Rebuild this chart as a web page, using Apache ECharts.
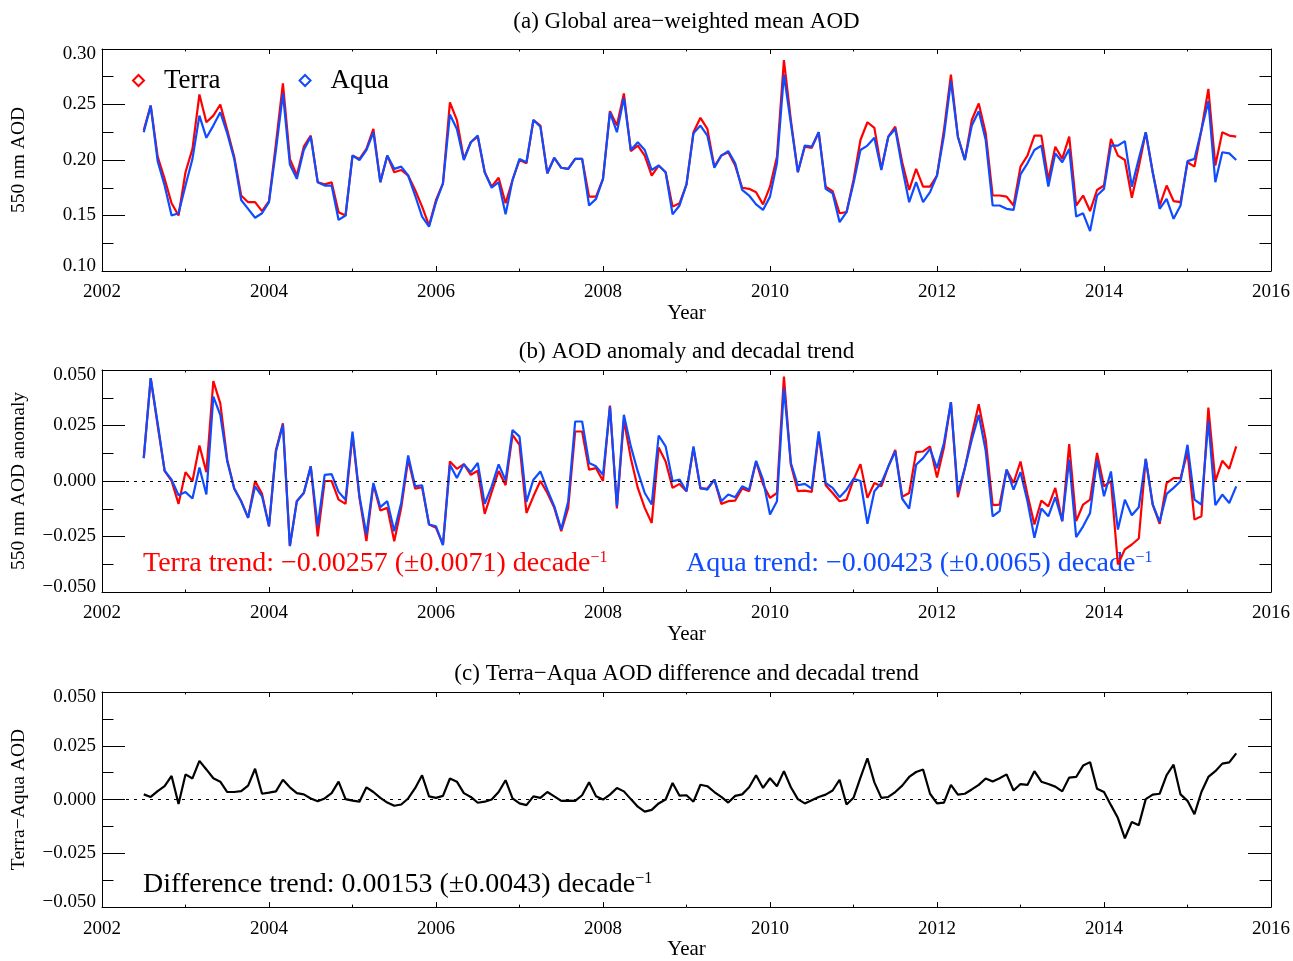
<!DOCTYPE html>
<html><head><meta charset="utf-8">
<script src="https://cdn.jsdelivr.net/npm/echarts@6/dist/echarts.min.js"></script>
<style>html,body{margin:0;padding:0;background:#fff}#c{width:1293px;height:961px}</style>
</head><body><div id="c"></div>
<script>
// ---------- data ----------
const startYear = 2002, startMonth = 7; // first value: July 2002, monthly
const xTickLabels = ['2002','2004','2006','2008','2010','2012','2014','2016'];
const yTickLabelsA = ['0.10','0.15','0.20','0.25','0.30'];
const yTickLabelsB = ['\u22120.050','\u22120.025','0.000','0.025','0.050'];
const yTickLabelsC = ['\u22120.050','\u22120.025','0.000','0.025','0.050'];

const terraAOD = [0.227,0.249,0.203,0.183,0.161,0.150,0.189,0.210,0.259,0.234,0.240,0.250,
0.227,0.203,0.168,0.162,0.162,0.154,0.163,0.215,0.269,0.201,0.186,0.212,
0.222,0.180,0.178,0.180,0.153,0.150,0.204,0.201,0.210,0.228,0.180,0.204,
0.189,0.191,0.186,0.173,0.158,0.141,0.164,0.179,0.252,0.236,0.201,0.216,
0.221,0.189,0.176,0.184,0.161,0.182,0.200,0.197,0.236,0.231,0.188,0.202,
0.193,0.192,0.201,0.201,0.167,0.167,0.183,0.244,0.231,0.260,0.208,0.213,
0.204,0.186,0.195,0.189,0.158,0.161,0.178,0.225,0.238,0.228,0.194,0.204,
0.207,0.195,0.175,0.174,0.171,0.160,0.176,0.203,0.290,0.236,0.189,0.212,
0.211,0.225,0.176,0.172,0.152,0.153,0.182,0.218,0.234,0.229,0.192,0.221,
0.230,0.198,0.173,0.192,0.176,0.176,0.186,0.227,0.277,0.221,0.200,0.236,
0.251,0.224,0.168,0.168,0.167,0.159,0.194,0.204,0.222,0.222,0.182,0.212,
0.201,0.221,0.159,0.168,0.154,0.173,0.177,0.219,0.204,0.200,0.166,0.194,
0.225,0.189,0.159,0.177,0.163,0.162,0.198,0.194,0.227,0.264,0.195,0.225,
0.222,0.221];

const aquaAOD = [0.225,0.249,0.199,0.177,0.150,0.152,0.177,0.201,0.240,0.220,0.231,0.243,
0.224,0.201,0.164,0.156,0.148,0.152,0.162,0.209,0.260,0.196,0.183,0.209,
0.221,0.180,0.177,0.177,0.146,0.150,0.204,0.200,0.209,0.225,0.180,0.204,
0.192,0.194,0.186,0.168,0.149,0.140,0.162,0.179,0.241,0.228,0.200,0.216,
0.222,0.189,0.175,0.180,0.151,0.182,0.201,0.198,0.236,0.230,0.188,0.202,
0.193,0.192,0.201,0.201,0.159,0.165,0.183,0.243,0.225,0.256,0.209,0.216,
0.209,0.191,0.195,0.189,0.151,0.159,0.178,0.224,0.231,0.222,0.193,0.204,
0.208,0.197,0.173,0.168,0.160,0.155,0.167,0.197,0.277,0.233,0.189,0.213,
0.212,0.225,0.174,0.170,0.144,0.153,0.179,0.209,0.213,0.220,0.191,0.221,
0.228,0.193,0.162,0.180,0.162,0.171,0.186,0.222,0.271,0.221,0.200,0.231,
0.244,0.218,0.159,0.159,0.156,0.155,0.187,0.197,0.209,0.213,0.176,0.206,
0.198,0.210,0.149,0.152,0.136,0.168,0.174,0.213,0.213,0.217,0.176,0.201,
0.225,0.189,0.156,0.165,0.147,0.159,0.199,0.201,0.227,0.253,0.180,0.207,
0.206,0.200];

const terraAnomaly = [0.0103,0.0463,0.0250,0.0046,0.0000,-0.0103,0.0040,-0.0001,0.0160,0.0040,0.0450,0.0350,
0.0096,-0.0034,-0.0091,-0.0166,0.0000,-0.0058,-0.0204,0.0140,0.0260,-0.0293,-0.0091,-0.0054,
0.0066,-0.0249,0.0000,0.0000,-0.0084,-0.0103,0.0208,-0.0076,-0.0271,-0.0016,-0.0133,-0.0121,
-0.0271,-0.0121,0.0096,-0.0034,-0.0028,-0.0196,-0.0211,-0.0286,0.0088,0.0055,0.0076,0.0028,
0.0046,-0.0148,-0.0050,0.0045,-0.0019,0.0208,0.0163,-0.0144,-0.0069,0.0000,-0.0054,-0.0121,
-0.0226,-0.0121,0.0223,0.0223,0.0051,0.0058,0.0000,0.0340,-0.0124,0.0275,0.0103,-0.0031,
-0.0121,-0.0189,0.0151,0.0088,-0.0031,-0.0013,-0.0046,0.0148,-0.0034,-0.0034,0.0006,-0.0103,
-0.0091,-0.0088,-0.0034,-0.0046,0.0088,-0.0016,-0.0076,-0.0054,0.0470,0.0073,-0.0046,-0.0043,
-0.0049,0.0208,-0.0019,-0.0054,-0.0091,-0.0084,0.0006,0.0076,-0.0076,-0.0009,-0.0024,0.0065,
0.0140,-0.0071,-0.0054,0.0130,0.0133,0.0156,0.0016,0.0151,0.0355,-0.0073,0.0058,0.0208,
0.0346,0.0186,-0.0109,-0.0106,0.0051,-0.0009,0.0088,-0.0061,-0.0196,-0.0088,-0.0114,-0.0031,
-0.0181,0.0166,-0.0181,-0.0106,-0.0084,0.0126,-0.0024,-0.0001,-0.0376,-0.0308,-0.0286,-0.0259,
0.0100,-0.0106,-0.0193,-0.0009,0.0013,0.0013,0.0130,-0.0174,-0.0159,0.0331,-0.0001,0.0091,
0.0055,0.0156];

const aquaAnomaly = [0.0103,0.0463,0.0260,0.0046,0.0006,-0.0064,-0.0050,-0.0079,0.0061,-0.0061,0.0380,0.0298,
0.0088,-0.0034,-0.0091,-0.0166,-0.0024,-0.0069,-0.0204,0.0133,0.0253,-0.0293,-0.0091,-0.0054,
0.0066,-0.0204,0.0028,0.0031,-0.0049,-0.0084,0.0223,-0.0069,-0.0241,-0.0009,-0.0118,-0.0091,
-0.0226,-0.0099,0.0115,-0.0024,-0.0019,-0.0196,-0.0204,-0.0289,0.0073,0.0013,0.0076,0.0040,
0.0081,-0.0103,-0.0024,0.0075,0.0003,0.0230,0.0200,-0.0094,0.0006,0.0043,-0.0039,-0.0114,
-0.0219,-0.0091,0.0268,0.0268,0.0081,0.0066,0.0028,0.0335,-0.0114,0.0298,0.0156,0.0043,
-0.0054,-0.0106,0.0205,0.0156,-0.0001,0.0006,-0.0046,0.0156,-0.0031,-0.0039,0.0006,-0.0091,
-0.0061,-0.0073,-0.0024,-0.0039,0.0091,0.0006,-0.0151,-0.0091,0.0418,0.0081,-0.0019,-0.0013,
-0.0034,0.0223,-0.0009,-0.0031,-0.0073,-0.0039,0.0010,0.0000,-0.0193,-0.0046,-0.0009,0.0065,
0.0133,-0.0080,-0.0124,0.0073,0.0103,0.0145,0.0058,0.0171,0.0355,-0.0054,0.0058,0.0186,
0.0298,0.0136,-0.0159,-0.0136,0.0051,-0.0039,0.0040,-0.0091,-0.0256,-0.0124,-0.0159,-0.0073,
-0.0181,0.0096,-0.0253,-0.0204,-0.0144,0.0096,-0.0069,0.0043,-0.0219,-0.0084,-0.0154,-0.0118,
0.0100,-0.0106,-0.0184,-0.0058,-0.0031,-0.0001,0.0163,-0.0084,-0.0106,0.0271,-0.0109,-0.0061,
-0.0099,-0.0024];

const terraMinusAqua = [0.0024,0.0012,0.0039,0.0062,0.0110,-0.0021,0.0117,0.0098,0.0180,0.0140,0.0099,0.0083,
0.0035,0.0035,0.0039,0.0065,0.0143,0.0027,0.0032,0.0038,0.0092,0.0057,0.0030,0.0024,
0.0005,-0.0008,0.0005,0.0030,0.0083,0.0002,-0.0005,-0.0010,0.0057,0.0035,0.0008,-0.0014,
-0.0029,-0.0023,0.0005,0.0053,0.0113,0.0015,0.0008,0.0017,0.0098,0.0083,0.0030,0.0012,
-0.0015,-0.0010,0.0000,0.0035,0.0090,0.0005,-0.0018,-0.0026,0.0015,0.0008,0.0035,0.0015,
-0.0006,-0.0005,-0.0006,0.0020,0.0080,0.0015,0.0000,0.0023,0.0054,0.0038,0.0002,-0.0033,
-0.0056,-0.0048,-0.0018,0.0000,0.0077,0.0018,0.0020,-0.0010,0.0069,0.0062,0.0035,0.0012,
-0.0014,0.0017,0.0024,0.0057,0.0113,0.0054,0.0099,0.0062,0.0132,0.0057,0.0002,-0.0018,
-0.0003,0.0012,0.0023,0.0042,0.0092,-0.0023,0.0008,0.0102,0.0192,0.0080,0.0008,0.0012,
0.0035,0.0065,0.0105,0.0128,0.0140,0.0027,-0.0018,-0.0014,0.0068,0.0023,0.0027,0.0047,
0.0068,0.0098,0.0084,0.0099,0.0117,0.0042,0.0072,0.0068,0.0132,0.0083,0.0072,0.0060,
0.0038,0.0102,0.0105,0.0158,0.0174,0.0050,0.0035,-0.0026,-0.0086,-0.0180,-0.0104,-0.0119,
0.0002,0.0023,0.0027,0.0114,0.0162,0.0024,-0.0006,-0.0068,0.0035,0.0105,0.0132,0.0167,
0.0173,0.0215];

// ---------- styling ----------
const FONT = '"Liberation Serif","Times New Roman",serif';
const RED = '#ff0000', BLUE = '#0f4bff', BLACK = '#000';
const time = terraAOD.map((_, k) => startYear + (startMonth - 1 + k) / 12);
const pairs = arr => arr.map((v, k) => [time[k], v]);

const tops = [49, 370, 692];
const grids = tops.map(t => ({left: 102, width: 1169, top: t, height: 222}));

function xAx(gi, pos) {
  return {
    type: 'value', gridIndex: gi, position: pos, min: 2002, max: 2016, interval: 2,
    axisLine: {show: true, onZero: false, lineStyle: {color: BLACK, width: 1}},
    axisTick: {show: true, inside: true, length: 5, lineStyle: {color: BLACK, width: 1}},
    minorTick: {show: true, splitNumber: 2, length: 2.5, lineStyle: {color: BLACK, width: 1}},
    splitLine: {show: false}, minorSplitLine: {show: false},
    axisLabel: {show: pos === 'bottom', margin: 12, fontFamily: FONT, fontSize: 19, color: BLACK,
      showMinLabel: true, showMaxLabel: true,
      formatter: v => xTickLabels[Math.round((v - 2002) / 2)]},
    name: pos === 'bottom' ? 'Year' : '', nameLocation: 'middle', nameGap: 31,
    nameTextStyle: {fontFamily: FONT, fontSize: 21, color: BLACK}
  };
}
function yAx(gi, pos, min, max, step, labels, name) {
  const last = labels.length - 1;
  const base = {fontFamily: FONT, fontSize: 19, color: BLACK};
  return {
    type: 'value', gridIndex: gi, position: pos, min: min, max: max, interval: step,
    axisLine: {show: true, onZero: false, lineStyle: {color: BLACK, width: 1}},
    axisTick: {show: true, inside: true, length: 23, lineStyle: {color: BLACK, width: 1}},
    minorTick: {show: true, splitNumber: 2, length: 11.5, lineStyle: {color: BLACK, width: 1}},
    splitLine: {show: false}, minorSplitLine: {show: false},
    axisLabel: {show: pos === 'left', margin: 6, fontFamily: FONT, fontSize: 19, color: BLACK,
      showMinLabel: true, showMaxLabel: true,
      formatter: v => {
        const i = Math.round((v - min) / step);
        if (i === 0) return '{lo|' + labels[i] + '}';
        if (i === last) return '{hi|' + labels[i] + '}';
        return labels[i];
      },
      rich: {
        lo: Object.assign({padding: [0, 0, 10, 0]}, base),
        hi: Object.assign({padding: [10, 0, 0, 0]}, base)
      }},
    name: pos === 'left' ? name : '', nameLocation: 'middle', nameGap: 73, nameRotate: 90,
    nameTextStyle: {fontFamily: FONT, fontSize: 19.5, color: BLACK}
  };
}

const xAxes = [], yAxes = [];
const yDefs = [
  [0.10, 0.30, 0.05, yTickLabelsA, '550 nm AOD'],
  [-0.05, 0.05, 0.025, yTickLabelsB, '550 nm AOD anomaly'],
  [-0.05, 0.05, 0.025, yTickLabelsC, 'Terra\u2212Aqua AOD']
];
for (let g = 0; g < 3; g++) {
  xAxes.push(xAx(g, 'bottom'), xAx(g, 'top'));
  const d = yDefs[g];
  yAxes.push(yAx(g, 'left', d[0], d[1], d[2], d[3], d[4]), yAx(g, 'right', d[0], d[1], d[2], d[3], d[4]));
}

const zeroLine = {
  silent: true, symbol: ['none', 'none'], label: {show: false}, animation: false,
  lineStyle: {color: BLACK, type: [3, 5], width: 1}, emphasis: {disabled: true},
  data: [{yAxis: 0}]
};
function lineSeries(name, g, arr, color, extra) {
  return Object.assign({
    type: 'line', name: name, xAxisIndex: 2 * g, yAxisIndex: 2 * g, data: pairs(arr),
    showSymbol: false, symbol: 'none', smooth: false, animation: false,
    lineStyle: {color: color, width: 2.2}, itemStyle: {color: color},
    emphasis: {disabled: true}
  }, extra || {});
}

const series = [
  lineSeries('Terra', 0, terraAOD, RED),
  lineSeries('Aqua', 0, aquaAOD, BLUE),
  lineSeries('Terra anomaly', 1, terraAnomaly, RED, {markLine: zeroLine}),
  lineSeries('Aqua anomaly', 1, aquaAnomaly, BLUE),
  lineSeries('Terra-Aqua', 2, terraMinusAqua, BLACK, {markLine: zeroLine})
];

function titleText(x, y, text) {
  return {type: 'text', x: x, y: y, silent: true,
    style: {text: text, fontFamily: FONT, fontSize: 23, fill: BLACK, align: 'center', verticalAlign: 'middle'}};
}
function trendText(x, y, main, color) {
  return {type: 'text', x: x, y: y, silent: true,
    style: {text: '{m|' + main + '}{s|\u22121}', align: 'left', verticalAlign: 'middle',
      rich: {
        m: {fontFamily: FONT, fontSize: 28, fill: color},
        s: {fontFamily: FONT, fontSize: 16, fill: color, verticalAlign: 'top', padding: [0, 0, 4, 0]}
      }}};
}

const option = {
  backgroundColor: '#fff',
  animation: false,
  grid: grids,
  xAxis: xAxes,
  yAxis: yAxes,
  legend: {
    left: 132, top: 67, padding: 0, icon: 'diamond', itemWidth: 11, itemHeight: 11, itemGap: 78,
    selectedMode: false,
    textStyle: {fontFamily: FONT, fontSize: 27, color: BLACK, padding: [0, 0, 0, 15]},
    data: [
      {name: 'Terra', itemStyle: {color: '#fff', borderColor: RED, borderWidth: 2}},
      {name: 'Aqua', itemStyle: {color: '#fff', borderColor: BLUE, borderWidth: 2}}
    ]
  },
  graphic: [
    titleText(686.5, 22, '(a) Global area\u2212weighted mean AOD'),
    titleText(686.5, 352, '(b) AOD anomaly and decadal trend'),
    titleText(686.5, 674, '(c) Terra\u2212Aqua AOD difference and decadal trend'),
    trendText(143, 564, 'Terra trend: \u22120.00257 (\u00b10.0071) decade', RED),
    trendText(686, 564, 'Aqua trend: \u22120.00423 (\u00b10.0065) decade', BLUE),
    trendText(143, 885, 'Difference trend: 0.00153 (\u00b10.0043) decade', BLACK)
  ],
  series: series
};

const chart = echarts.init(document.getElementById('c'), null, {renderer: 'canvas'});
chart.setOption(option);
</script>
</body></html>
